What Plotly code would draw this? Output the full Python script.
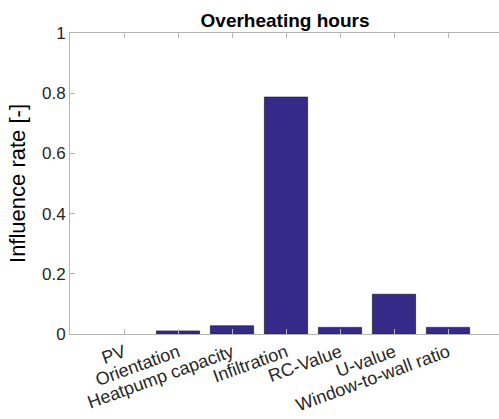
import plotly.graph_objects as go

# Sensitivity of overheating hours to each design parameter
parameters = ["PV", "Orientation", "Heatpump capacity", "Infiltration",
              "RC-Value", "U-value", "Window-to-wall ratio"]
influence = [0.0, 0.010, 0.027, 0.787, 0.022, 0.132, 0.022]
y_ticks = [0, 0.2, 0.4, 0.6, 0.8, 1]

positions = list(range(1, len(parameters) + 1))

FONT = "Liberation Sans, Arial, Helvetica, sans-serif"
AXIS_GREY = "#b4b4b4"
TEXT = "#262626"

# zero-height bars get no outline so they don't leave a stray line on the axis
edge_widths = [0.8 if v > 0 else 0 for v in influence]

fig = go.Figure()
fig.add_trace(go.Bar(
    x=positions,
    y=influence,
    width=0.8,
    marker=dict(color="#352a87", line=dict(color="#2a2a2a", width=edge_widths)),
    showlegend=False,
))

x_range = [0, 429 / 54]

fig.update_layout(
    width=499,
    height=419,
    margin=dict(l=70, r=0, t=33, b=85),
    paper_bgcolor="white",
    plot_bgcolor="white",
    font=dict(family=FONT, color=TEXT, size=17),
    title=dict(
        text="<b>Overheating hours</b>",
        font=dict(family=FONT, size=19, color="black"),
        x=(285 / 499), xanchor="center",
        y=1 - 27 / 419, yanchor="bottom",
        pad=dict(b=0),
    ),
    xaxis=dict(
        range=x_range,
        tickmode="array",
        tickvals=positions,
        ticktext=parameters,
        tickangle=-20,
        ticks="inside",
        ticklen=5,
        tickcolor=AXIS_GREY,
        showline=True,
        linecolor=AXIS_GREY,
        linewidth=1,
        mirror="ticks",
        showgrid=False,
        zeroline=False,
        tickfont=dict(size=18, color=TEXT),
    ),
    yaxis=dict(
        range=[0, 1],
        tickmode="array",
        tickvals=y_ticks,
        ticktext=[f"{v:g}" for v in y_ticks],
        ticks="inside",
        ticklen=5,
        tickcolor=AXIS_GREY,
        showline=True,
        linecolor=AXIS_GREY,
        linewidth=1,
        showgrid=False,
        zeroline=False,
        tickfont=dict(size=17, color=TEXT),
        title=dict(text="Influence rate [-]", font=dict(size=22, color="black"), standoff=10),
    ),
    yaxis2=dict(
        range=[0, 1],
        overlaying="y",
        anchor="free",
        position=1,
        side="right",
        tickmode="array",
        tickvals=y_ticks,
        ticks="inside",
        ticklen=5,
        tickcolor=AXIS_GREY,
        showticklabels=False,
        showline=False,
        showgrid=False,
        zeroline=False,
    ),
)

fig.write_html("out.html")
